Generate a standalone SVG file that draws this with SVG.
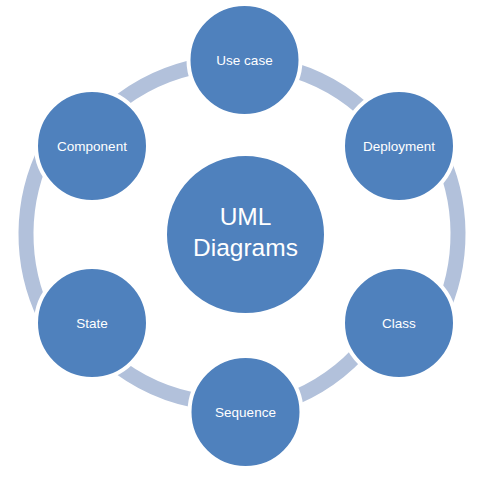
<svg xmlns="http://www.w3.org/2000/svg" width="483" height="478" viewBox="0 0 483 478">
<style>
.arc{fill:none;stroke:#B2C1DB;stroke-width:15;stroke-linecap:butt}
.node{fill:#4F81BD;stroke:#FFFFFF;stroke-width:4}
.lbl{font-family:"Liberation Sans",Arial,sans-serif;font-size:13.5px;fill:#FFFFFF;text-anchor:middle}
.big{font-family:"Liberation Sans",Arial,sans-serif;font-size:24.5px;fill:#FFFFFF;text-anchor:middle}
</style>
<rect width="483" height="478" fill="#FFFFFF"/>
<g id="connectors">
<path class="arc" d="M 112.8 107.1 A 191 191 0 0 1 202.4 65.3"/>
<path class="arc" d="M 282.9 67.1 A 191 191 0 0 1 371.8 117.4"/>
<path class="arc" d="M 437.2 147.3 A 191 191 0 0 1 438.7 317.7"/>
<path class="arc" d="M 366.0 344.8 A 191 191 0 0 1 285.0 401.5"/>
<path class="arc" d="M 205.5 402.0 A 191 191 0 0 1 109.3 359.2"/>
<path class="arc" d="M 45.3 317.7 A 191 191 0 0 1 46.8 147.3"/>
</g>
<g id="center">
<circle class="node" cx="245.5" cy="234.5" r="80.5"/>
<text class="big" x="245.5" y="225">UML</text>
<text class="big" x="245.5" y="256">Diagrams</text>
</g>
<g id="usecase">
<circle class="node" cx="244.5" cy="60" r="56"/>
<text class="lbl" x="244.5" y="65">Use case</text>
</g>
<g id="deployment">
<circle class="node" cx="399" cy="146" r="56"/>
<text class="lbl" x="399" y="150.5">Deployment</text>
</g>
<g id="class">
<circle class="node" cx="399" cy="323" r="56"/>
<text class="lbl" x="399" y="327.5">Class</text>
</g>
<g id="sequence">
<circle class="node" cx="245.5" cy="412" r="56"/>
<text class="lbl" x="245.5" y="416.5">Sequence</text>
</g>
<g id="state">
<circle class="node" cx="92" cy="323" r="56"/>
<text class="lbl" x="92" y="327.5">State</text>
</g>
<g id="component">
<circle class="node" cx="92" cy="146" r="56"/>
<text class="lbl" x="92" y="150.5">Component</text>
</g>
</svg>
